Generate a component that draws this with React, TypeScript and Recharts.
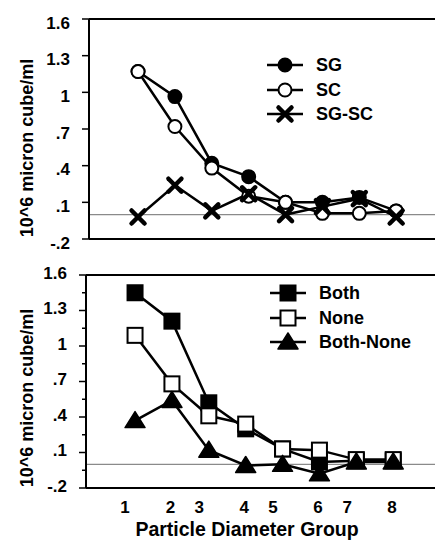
import { LineChart, Line, XAxis, YAxis, ReferenceLine, Legend } from "recharts";

const GROUPS = [1, 2, 3, 4, 5, 6, 7, 8];

// top panel
const SG = [1.17, 0.965, 0.42, 0.31, 0.1, 0.1, 0.14, 0.03];
const SC = [1.17, 0.72, 0.38, 0.15, 0.1, 0.01, 0.01, 0.03];
const SG_SC = [-0.02, 0.24, 0.03, 0.17, 0.0, 0.065, 0.13, -0.02];

// bottom panel
const BOTH = [1.45, 1.21, 0.52, 0.3, 0.13, 0.02, 0.03, 0.03];
const NONE = [1.09, 0.68, 0.41, 0.34, 0.13, 0.12, 0.04, 0.04];
const BOTH_NONE = [0.37, 0.54, 0.12, -0.01, 0.0, -0.08, 0.02, 0.02];

const Y_MAJOR = [-0.2, 0.1, 0.4, 0.7, 1.0, 1.3, 1.6];
const Y_MAJOR_LABELS = ["-.2", ".1", ".4", ".7", "1", "1.3", "1.6"];
const Y_MINOR = [-0.05, 0.25, 0.55, 0.85, 1.15, 1.45];

// tick labels sit a bit off the points in the original
const X_TICK_POS = [0.73, 1.96, 2.74, 3.96, 4.74, 5.96, 6.75, 7.97];
const X_TICK_LABELS = ["1", "2", "3", "4", "5", "6", "7", "8"];

const Y_TITLE = "10^6 micron cube/ml";
const X_TITLE = "Particle Diameter Group";

const FONT = '"Liberation Sans", Arial, Helvetica, sans-serif';

type Kind = "circle" | "square" | "triangle" | "cross";
type Series = { key: string; name: string; kind: Kind; filled: boolean };

const TOP_SERIES: Series[] = [
  { key: "sg", name: "SG", kind: "circle", filled: true },
  { key: "sc", name: "SC", kind: "circle", filled: false },
  { key: "sgsc", name: "SG-SC", kind: "cross", filled: true },
];
const BOTTOM_SERIES: Series[] = [
  { key: "both", name: "Both", kind: "square", filled: true },
  { key: "none", name: "None", kind: "square", filled: false },
  { key: "bothNone", name: "Both-None", kind: "triangle", filled: true },
];

const topData = GROUPS.map((g, i) => ({ group: g, sg: SG[i], sc: SC[i], sgsc: SG_SC[i] }));
const bottomData = GROUPS.map((g, i) => ({
  group: g,
  both: BOTH[i],
  none: NONE[i],
  bothNone: BOTH_NONE[i],
}));

function Marker({ cx, cy, kind, filled }: { cx: number; cy: number; kind: Kind; filled: boolean }) {
  if (cx == null || cy == null) return null;
  const fill = filled ? "#000" : "#fff";
  if (kind === "circle") {
    return <circle cx={cx} cy={cy} r={6.5} fill={fill} stroke="#000" strokeWidth={2} />;
  }
  if (kind === "square") {
    return <rect x={cx - 7.5} y={cy - 7.5} width={15} height={15} fill={fill} stroke="#000" strokeWidth={2} />;
  }
  if (kind === "triangle") {
    return (
      <polygon
        points={`${cx - 10},${cy + 7} ${cx + 10},${cy + 7} ${cx},${cy - 9}`}
        fill={fill}
        stroke="#000"
        strokeWidth={1.5}
        strokeLinejoin="round"
      />
    );
  }
  return (
    <g stroke="#000" strokeWidth={4.5} strokeLinecap="round">
      <line x1={cx - 6.5} y1={cy - 6.5} x2={cx + 6.5} y2={cy + 6.5} />
      <line x1={cx - 6.5} y1={cy + 6.5} x2={cx + 6.5} y2={cy - 6.5} />
    </g>
  );
}

function YTick(props: any) {
  const { payload, axisX, dy } = props;
  const y = payload.coordinate;
  const idx = Y_MAJOR.findIndex((v) => Math.abs(v - payload.value) < 1e-6);
  const major = idx >= 0;
  return (
    <g>
      <line x1={axisX - (major ? 7 : 4)} x2={axisX} y1={y} y2={y} stroke="#000" strokeWidth={1.5} />
      {major && (
        <text
          x={axisX - 19}
          y={y + dy}
          textAnchor="end"
          dominantBaseline="central"
          fontFamily={FONT}
          fontWeight={700}
          fontSize={17}
          fill="#000"
        >
          {Y_MAJOR_LABELS[idx]}
        </text>
      )}
    </g>
  );
}

function XTick(props: any) {
  const { payload, baseY } = props;
  const idx = X_TICK_POS.findIndex((v) => Math.abs(v - payload.value) < 1e-6);
  return (
    <text
      x={payload.coordinate}
      y={baseY}
      textAnchor="middle"
      dominantBaseline="central"
      fontFamily={FONT}
      fontWeight={700}
      fontSize={17}
      fill="#000"
    >
      {X_TICK_LABELS[idx]}
    </text>
  );
}

function YTitle({ posX, posY }: { posX: number; posY: number }) {
  return (
    <g transform={`translate(${posX} ${posY}) rotate(-90)`}>
      <text
        x={0}
        y={0}
        textAnchor="middle"
        dominantBaseline="central"
        fontFamily={FONT}
        fontWeight={700}
        fontSize={18}
        fill="#000"
      >
        {Y_TITLE}
      </text>
    </g>
  );
}

function XTitle() {
  return (
    <text
      x={239}
      y={281}
      textAnchor="middle"
      dominantBaseline="central"
      fontFamily={FONT}
      fontWeight={700}
      fontSize={19.5}
      fill="#000"
    >
      {X_TITLE}
    </text>
  );
}

function LegendBox({ series }: { series: Series[] }) {
  return (
    <div style={{ fontFamily: FONT, fontWeight: 700, fontSize: 18, color: "#000", lineHeight: 1 }}>
      {series.map((s) => (
        <div key={s.key} style={{ display: "flex", alignItems: "center", height: 24.5 }}>
          <svg width={36} height={24} style={{ display: "block" }}>
            <line x1={0} x2={36} y1={12} y2={12} stroke="#000" strokeWidth={2.5} />
            <Marker cx={18} cy={12} kind={s.kind} filled={s.filled} />
          </svg>
          <span style={{ marginLeft: 13 }}>{s.name}</span>
        </div>
      ))}
    </div>
  );
}

function renderLines(series: Series[]) {
  return series.map((s) => (
    <Line
      key={s.key}
      dataKey={s.key}
      type="linear"
      stroke="#000"
      strokeWidth={2.5}
      isAnimationActive={false}
      dot={(p: any) => <Marker key={`${s.key}-${p.index}`} cx={p.cx} cy={p.cy} kind={s.kind} filled={s.filled} />}
      activeDot={false}
    />
  ));
}

export default function App() {
  const topAxisX = 81;
  const bottomAxisX = 78;
  return (
    <div style={{ width: 435 }}>
      <LineChart width={435} height={250} data={topData} margin={{ top: 11, right: 0, bottom: 10, left: 0 }}>
        <XAxis
          dataKey="group"
          type="number"
          domain={[-0.33, 9.27]}
          allowDataOverflow
          height={9}
          tick={false}
          tickLine={false}
          axisLine={{ stroke: "#000", strokeWidth: 2 }}
        />
        <YAxis
          type="number"
          domain={[-0.2, 1.6]}
          allowDataOverflow
          ticks={Y_MAJOR}
          interval={0}
          width={topAxisX}
          tickLine={false}
          axisLine={{ stroke: "#000", strokeWidth: 2 }}
          tick={(p: any) => <YTick {...p} axisX={topAxisX} dy={4} />}
          label={<YTitle posX={19} posY={140} />}
        />
        <ReferenceLine y={0} stroke="#8a8a8a" strokeWidth={1.2} />
        <ReferenceLine y={1.6} stroke="#000" strokeWidth={2} />
        <Legend
          layout="horizontal"
          verticalAlign="middle"
          align="center"
          wrapperStyle={{ left: 259, top: 45, width: "auto" }}
          content={() => <LegendBox series={TOP_SERIES} />}
        />
        {renderLines(TOP_SERIES)}
      </LineChart>
      <div style={{ marginTop: -10 }}>
        <LineChart width={435} height={292} data={bottomData} margin={{ top: 27, right: 0, bottom: 0, left: 0 }}>
          <XAxis
            dataKey="group"
            type="number"
            domain={[-0.33, 9.35]}
            allowDataOverflow
            height={52}
            ticks={X_TICK_POS}
            interval={0}
            tickLine={false}
            axisLine={{ stroke: "#000", strokeWidth: 2 }}
            tick={(p: any) => <XTick {...p} baseY={259} />}
            label={<XTitle />}
          />
          <YAxis
            type="number"
            domain={[-0.2, 1.6]}
            allowDataOverflow
            ticks={[...Y_MAJOR, ...Y_MINOR].sort((a, b) => a - b)}
            interval={0}
            width={bottomAxisX}
            tickLine={false}
            axisLine={{ stroke: "#000", strokeWidth: 2 }}
            tick={(p: any) => <YTick {...p} axisX={bottomAxisX} dy={-2} />}
            label={<YTitle posX={19} posY={150} />}
          />
          <ReferenceLine y={0} stroke="#8a8a8a" strokeWidth={1.2} />
          <ReferenceLine y={1.6} stroke="#000" strokeWidth={2} />
          <Legend
            layout="horizontal"
            verticalAlign="middle"
            align="center"
            wrapperStyle={{ left: 262, top: 33, width: "auto" }}
            content={() => <LegendBox series={BOTTOM_SERIES} />}
          />
          {renderLines(BOTTOM_SERIES)}
        </LineChart>
      </div>
    </div>
  );
}
